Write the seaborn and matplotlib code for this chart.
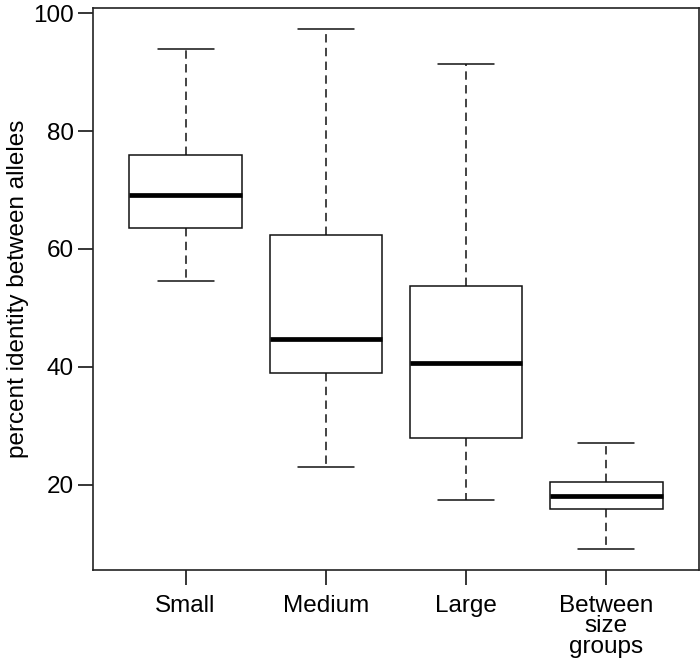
import matplotlib
matplotlib.use('Agg')
import matplotlib.pyplot as plt
import seaborn as sns
import pandas as pd

# five-number summaries: min, q1, median, q3, max
GROUPS = ['Small', 'Medium', 'Large', 'Between\nsize\ngroups']
SMALL = [54.5, 63.6, 69.1, 75.9, 93.9]
MEDIUM = [23.0, 38.9, 44.7, 62.3, 97.4]
LARGE = [17.3, 27.9, 40.6, 53.7, 91.4]
BETWEEN = [9.1, 15.9, 18.1, 20.5, 27.1]
Y_TICKS = [20, 40, 60, 80, 100]

sns.set_style('white')
plt.rcParams['font.family'] = ['Liberation Sans', 'DejaVu Sans']
plt.rcParams['text.color'] = 'black'
plt.rcParams['xtick.color'] = 'black'
plt.rcParams['ytick.color'] = 'black'
plt.rcParams['axes.labelcolor'] = 'black'

rows = []
for name, vals in zip(GROUPS, [SMALL, MEDIUM, LARGE, BETWEEN]):
    for v in vals:
        rows.append({'group': name, 'identity': v})
df = pd.DataFrame(rows)

fig = plt.figure(figsize=(7, 6.6), dpi=100)
ax = fig.add_axes([93 / 700, 90 / 660, 606 / 700, 562 / 660])

sns.boxplot(data=df, x='group', y='identity', order=GROUPS, ax=ax,
            whis=(0, 100), width=0.8, color='white', saturation=1,
            linecolor='#111111', linewidth=1.1, showfliers=False,
            medianprops=dict(color='black', linewidth=3.4, solid_capstyle='butt'),
            whiskerprops=dict(linestyle=(0, (5.5, 3.5)), linewidth=1.1),
            capprops=dict(linewidth=1.1))

ax.set_xlim(-0.66, 3.66)
ax.set_ylim(5.5, 100.9)
ax.set_yticks(Y_TICKS)
ax.set_yticklabels([str(t) for t in Y_TICKS], fontsize=17.5)
ax.set_xticks(range(len(GROUPS)))
ax.set_xticklabels(GROUPS, fontsize=17.5, linespacing=0.9)
ax.tick_params(axis='both', direction='out', length=11, width=1.1,
               left=True, bottom=True)
ax.tick_params(axis='y', pad=3)
ax.tick_params(axis='x', pad=7)

ax.set_xlabel('')
ax.set_ylabel('percent identity between alleles', fontsize=17.5)
ax.yaxis.set_label_coords(-0.106, 0.5)

for side in ['left', 'right', 'top', 'bottom']:
    ax.spines[side].set_visible(True)
    ax.spines[side].set_color('#222222')
    ax.spines[side].set_linewidth(1.2)

fig.savefig('out.png', dpi=100)
